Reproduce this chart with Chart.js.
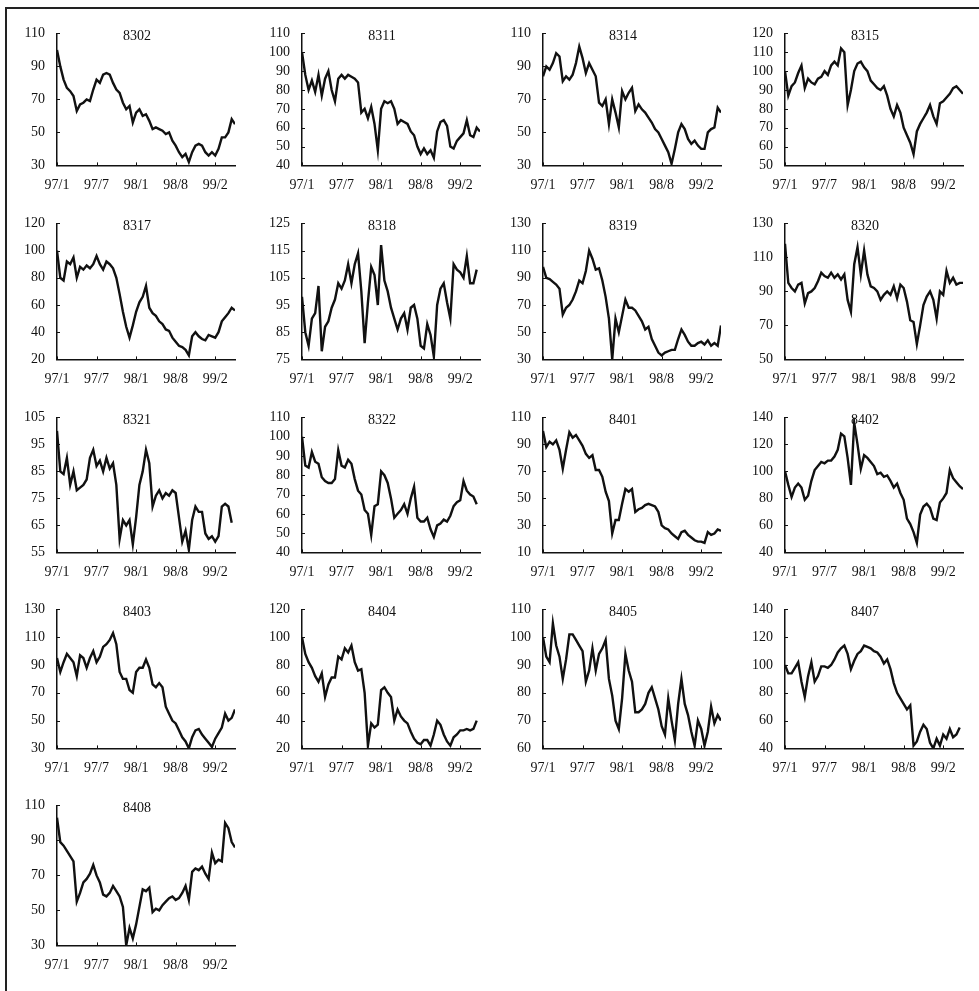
<!DOCTYPE html>
<html>
<head>
<meta charset="utf-8">
<title>Price index panels</title>
<script src="https://cdn.jsdelivr.net/npm/chart.js@4.4.1/dist/chart.umd.min.js"></script>
<style>
  html, body { margin: 0; padding: 0; background: #fff; }
  body { position: relative; width: 979px; height: 991px; overflow: hidden; }
  .frame {
    position: absolute; left: 5px; top: 7px; right: 0; bottom: 0;
    border-top: 2px solid #222; border-left: 2px solid #222;
  }
  canvas { position: absolute; }
</style>
</head>
<body>
<div class="frame"></div>

<script>
// ============================================================
// DATA (~2 values per month)
// ============================================================

const xLabels = ['97/1', '97/7', '98/1', '98/8', '99/2'];
const pointsPerLabel = 12;   // samples between two x labels
const xEnd = 4.5;            // axis ends half a label step after 99/2

const s8302 = [100,90,82,77,75,72,63,67,68,70,69,76,82,80,85,86,85,80,76,74,68,64,66,56,62,64,60,61,57,52,53,52,51,49,50,45,42,38,35,37,32,38,42,43,42,38,36,38,36,40,47,47,50,58,55];
const s8311 = [100,88,80,85,79,88,77,86,90,80,74,86,88,86,88,87,86,84,68,70,65,71,62,48,70,74,73,74,70,62,64,63,62,58,56,50,46,49,46,48,44,58,63,64,61,50,49,53,55,57,64,56,55,60,58];
const s8314 = [84,90,88,92,98,96,81,84,82,85,92,102,95,86,92,88,84,68,66,70,55,70,62,53,75,70,74,77,63,67,64,62,59,56,52,50,46,42,38,31,40,50,55,52,46,43,45,42,40,40,50,52,53,65,62];
const s8315 = [100,87,92,94,99,103,91,96,94,93,96,97,100,98,103,105,103,112,110,82,90,100,104,105,102,100,95,93,91,90,92,87,80,76,82,78,70,66,62,56,68,72,75,78,82,76,72,83,84,86,88,91,92,90,88];
const s8317 = [100,80,78,92,90,95,80,88,86,89,87,90,96,90,86,92,90,87,80,68,55,44,36,45,55,62,66,74,58,54,52,48,46,42,41,36,33,30,29,27,23,37,40,37,35,34,38,37,36,40,48,51,54,58,56];
const s8318 = [98,85,80,90,92,102,78,87,89,94,97,103,101,104,110,103,110,114,100,81,96,109,106,95,117,104,100,94,90,86,90,92,86,94,95,90,80,79,88,84,76,95,101,103,96,90,110,108,107,105,113,103,103,108];
const s8319 = [98,90,89,87,85,82,63,68,70,74,80,88,86,95,110,104,96,97,88,76,60,30,60,50,62,74,68,68,66,62,58,52,54,45,40,35,33,35,36,37,37,45,52,48,43,40,40,42,43,41,44,40,42,40,55];
const s8320 = [118,95,92,90,94,95,83,89,90,92,96,101,99,98,101,98,100,97,100,85,78,106,116,100,114,100,93,92,90,85,88,90,88,93,86,94,92,84,73,72,59,70,82,87,90,85,74,90,88,102,95,98,94,95,95];
const s8321 = [100,85,84,90,80,85,78,79,80,82,90,93,87,89,85,90,86,88,80,60,67,65,67,58,68,80,85,93,88,72,76,78,75,77,76,78,77,68,59,63,56,67,72,70,70,62,60,61,59,61,72,73,72,66];
const s8322 = [100,85,84,92,87,86,79,77,76,76,78,93,85,84,88,86,78,72,70,62,60,49,64,65,82,80,76,68,58,60,62,65,60,68,74,58,56,56,58,52,48,54,55,57,56,59,64,66,67,77,72,70,69,65];
const s8401 = [100,88,92,90,93,86,72,86,99,95,97,93,89,83,80,82,71,71,66,55,48,24,34,34,46,57,55,57,40,42,43,45,46,45,44,40,30,28,27,24,22,20,25,26,23,21,19,18,18,17,25,23,24,27,26];
const s8402 = [100,90,81,88,91,88,79,82,93,101,104,107,106,108,108,111,116,128,126,110,90,136,120,102,112,110,107,104,98,99,96,97,93,88,91,84,79,65,61,55,47,68,74,76,73,65,64,77,80,84,101,95,92,89,87];
const s8403 = [95,85,92,98,95,92,82,97,95,88,95,100,92,96,103,105,108,113,105,85,80,80,72,70,85,88,88,94,88,76,74,77,74,60,55,50,48,43,38,35,30,38,43,44,40,37,34,31,37,41,45,55,50,52,58];
const s8404 = [100,88,82,78,72,68,74,57,66,71,71,86,84,92,89,94,82,76,77,60,22,38,35,37,62,64,60,57,40,48,43,40,38,32,27,24,23,26,26,22,30,40,37,30,25,22,28,30,33,33,34,33,34,40];
const s8405 = [100,93,91,105,97,93,85,92,101,101,99,97,95,84,88,96,88,94,96,99,85,79,70,67,78,94,88,84,73,73,74,76,80,82,78,74,68,65,78,70,63,76,85,76,72,66,61,70,67,61,66,75,69,72,70];
const s8407 = [100,94,94,98,102,88,77,92,102,88,92,99,99,98,100,104,109,112,114,108,97,103,108,110,114,113,112,110,109,106,101,104,97,87,80,76,72,68,71,42,45,52,57,54,44,40,47,42,50,47,54,48,50,55];
const s8408 = [103,89,87,84,81,78,55,60,66,68,71,76,70,66,59,58,60,64,61,58,52,30,40,34,42,52,62,61,63,49,51,50,53,55,57,58,56,57,60,64,56,72,74,73,75,71,68,83,77,79,78,100,97,89,86];

const panelNames = ['8302','8311','8314','8315','8317','8318','8319','8320','8321','8322','8401','8402','8403','8404','8405','8407','8408'];
const panelSeries = [s8302,s8311,s8314,s8315,s8317,s8318,s8319,s8320,s8321,s8322,s8401,s8402,s8403,s8404,s8405,s8407,s8408];
const yMins  = [30,40,30,50, 20,75,30,50, 55,40,10,40, 30,20,60,40, 30];
const yMaxs  = [110,110,110,120, 120,125,130,130, 105,110,110,140, 130,120,110,140, 110];
const ySteps = [20,10,20,10, 20,10,20,20, 10,10,20,20, 20,20,10,20, 20];

// ============================================================
// LAYOUT (plot area of each panel, in page pixels)
// ============================================================

const colLeft = [57, 302, 543, 785];
const rowTop = [33, 223, 417, 609, 805];
const rowBottom = [165, 359, 552, 748, 945];
const plotW = 178;
const yAxisW = 56;
const xAxisH = 34;
const padTop = 12;
const padRight = 6;

const INK = '#111';
const FONT = "'Liberation Serif', 'DejaVu Serif', serif";

Chart.defaults.font.family = FONT;
Chart.defaults.font.size = 14;
Chart.defaults.color = INK;

// small inward tick marks on both axes
const innerTicks = {
  id: 'innerTicks',
  afterDraw(chart) {
    const { ctx, chartArea: a, scales: { x, y } } = chart;
    ctx.save();
    ctx.strokeStyle = INK;
    ctx.lineWidth = 1;
    ctx.beginPath();
    x.ticks.forEach(t => {
      const px = Math.round(x.getPixelForValue(t.value)) + 0.5;
      ctx.moveTo(px, a.bottom);
      ctx.lineTo(px, a.bottom - 3);
    });
    y.ticks.forEach(t => {
      const py = Math.round(y.getPixelForValue(t.value)) + 0.5;
      ctx.moveTo(a.left, py);
      ctx.lineTo(a.left + 3, py);
    });
    ctx.stroke();
    ctx.restore();
  }
};

// panel code written inside the plot, near the top
const panelTitle = {
  id: 'panelTitle',
  afterDraw(chart, args, opts) {
    const { ctx, chartArea: a } = chart;
    ctx.save();
    ctx.fillStyle = INK;
    ctx.font = '14px ' + FONT;
    ctx.textAlign = 'center';
    ctx.textBaseline = 'top';
    ctx.fillText(opts.text, a.left + 80, a.top - 4);
    ctx.restore();
  }
};

function crearPanel(k) {
  const col = k % 4;
  const row = Math.floor(k / 4);
  const plotH = rowBottom[row] - rowTop[row];

  const canvas = document.createElement('canvas');
  canvas.width = yAxisW + plotW + padRight;
  canvas.height = padTop + plotH + xAxisH;
  document.body.appendChild(canvas);

  const points = panelSeries[k].map((v, i) => ({ x: i / pointsPerLabel, y: v }));

  const chart = new Chart(canvas, {
    type: 'line',
    data: {
      datasets: [{
        data: points,
        borderColor: INK,
        borderWidth: 2.4,
        pointRadius: 0,
        tension: 0,
        fill: false
      }]
    },
    options: {
      responsive: false,
      maintainAspectRatio: false,
      animation: false,
      events: [],
      layout: { padding: { left: 0, top: padTop, right: padRight, bottom: 0 } },
      plugins: {
        legend: { display: false },
        tooltip: { enabled: false },
        panelTitle: { text: panelNames[k] }
      },
      scales: {
        x: {
          type: 'linear',
          min: 0,
          max: xEnd,
          afterBuildTicks: s => { s.ticks = xLabels.map((_, i) => ({ value: i })); },
          afterFit: s => { s.height = xAxisH; },
          ticks: {
            autoSkip: false,
            maxRotation: 0,
            padding: 12,
            callback: (v, i) => xLabels[i]
          },
          grid: { display: false, drawTicks: false },
          border: { display: true, color: INK, width: 1.5 }
        },
        y: {
          min: yMins[k],
          max: yMaxs[k],
          afterFit: s => { s.width = yAxisW; },
          ticks: { stepSize: ySteps[k], padding: 12, autoSkip: false },
          grid: { display: false, drawTicks: false },
          border: { display: true, color: INK, width: 1.5 }
        }
      }
    },
    plugins: [innerTicks, panelTitle]
  });

  // the library may reserve a little extra room: grow the canvas so the
  // plot gets its full height, then move it so the plot sits in place
  const a = chart.chartArea;
  const missing = plotH - (a.bottom - a.top);
  if (Math.abs(missing) > 0.5) chart.resize(canvas.width, canvas.height + missing);
  const b = chart.chartArea;
  canvas.style.left = (colLeft[col] - b.left) + 'px';
  canvas.style.top = (rowTop[row] - b.top) + 'px';
}

panelNames.forEach((_, k) => crearPanel(k));
</script>
</body>
</html>
